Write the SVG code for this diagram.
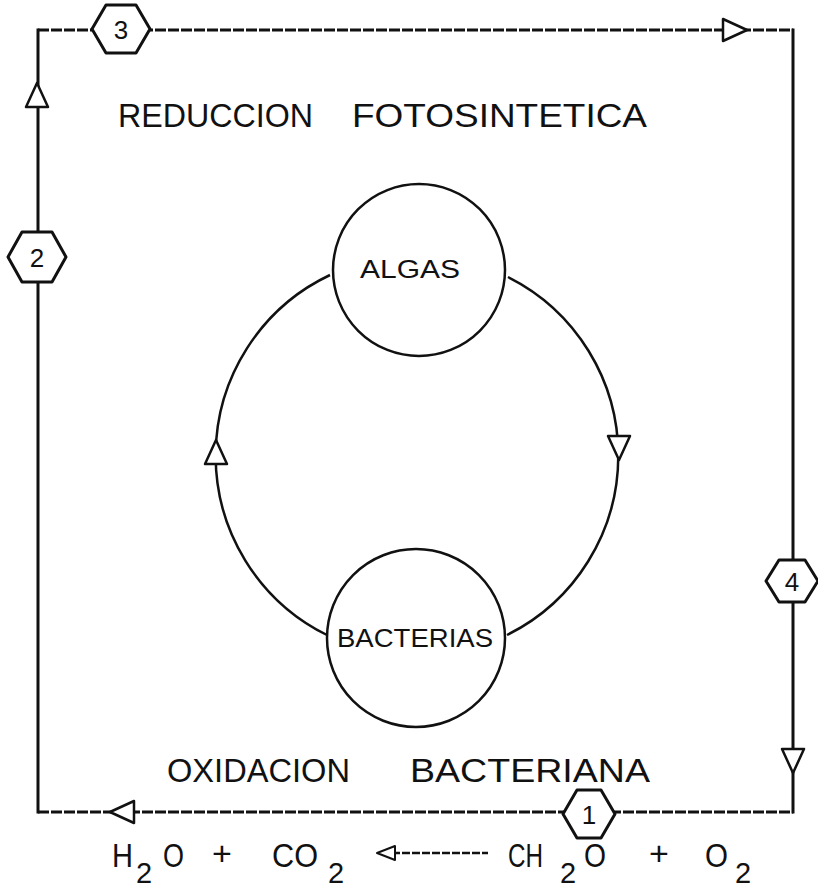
<svg xmlns="http://www.w3.org/2000/svg" xmlns:xlink="http://www.w3.org/1999/xlink" width="818" height="888" viewBox="0 0 818 888">
<style>
  .bg{fill:#ffffff}
  .frame{fill:none;stroke:#111;stroke-width:3;stroke-linecap:square}
  .dash{fill:none;stroke:#111;stroke-width:3;stroke-dasharray:11 2}
  .ring{fill:none;stroke:#111;stroke-width:2.5}
  .node{fill:#fff;stroke:#111;stroke-width:2.5}
  .hex{fill:#fff;stroke:#111;stroke-width:3;stroke-linejoin:round}
  .ah{fill:#fff;stroke:#111;stroke-width:2.5;stroke-linejoin:round}
  .t{font-family:"Liberation Sans","DejaVu Sans",sans-serif;fill:#111}
  .big{font-size:34px}
  .hx{font-size:26px;text-anchor:middle;dominant-baseline:central}
  .nl{font-size:25px}
</style>
<defs>
  <path id="arrowhead" class="ah" d="M0,0 L-24,-11 L-24,11 Z"/>
</defs>
<rect class="bg" x="0" y="0" width="818" height="888"/>

<g id="connectors">
  <!-- outer cycle frame -->
  <line class="frame" x1="38" y1="30" x2="38" y2="812"/>
  <line class="dash" x1="38" y1="30" x2="793" y2="30"/>
  <line class="frame" x1="793" y1="30" x2="793" y2="812"/>
  <line class="dash" x1="38" y1="812" x2="793" y2="812"/>
  <!-- frame arrowheads -->
  <use xlink:href="#arrowhead" transform="translate(37,83) rotate(-90)"/>
  <use xlink:href="#arrowhead" transform="translate(747,30)"/>
  <use xlink:href="#arrowhead" transform="translate(793,773) rotate(90)"/>
  <use xlink:href="#arrowhead" transform="translate(110,812) rotate(180)"/>
  <!-- inner ring -->
  <path class="ring" d="M330,275 A200,200 0 0 0 327,635"/>
  <path class="ring" d="M508,277 A200,200 0 0 1 507,635"/>
  <use xlink:href="#arrowhead" transform="translate(619,460) rotate(90)"/>
  <use xlink:href="#arrowhead" transform="translate(216,440) rotate(-90)"/>
  <!-- reaction arrow -->
  <line class="dash" x1="392" y1="853" x2="488" y2="853" style="stroke-width:2.5;stroke-dasharray:8 2"/>
  <path class="ah" d="M377,853 L395,846 L395,860 Z" style="stroke-width:2"/>
</g>

<g id="hex3">
  <polygon class="hex" points="92,29 106,5 136,5 150,29 136,53 106,53"/>
  <text class="t hx" x="121" y="30">3</text>
</g>
<g id="hex2">
  <polygon class="hex" points="8,257 22,232 52,232 66,257 52,282 22,282"/>
  <text class="t hx" x="37" y="258">2</text>
</g>
<g id="hex4">
  <polygon class="hex" points="766,581 779,560 805,560 818,581 805,602 779,602"/>
  <text class="t hx" x="792" y="582">4</text>
</g>
<g id="hex1">
  <polygon class="hex" points="563,814 577,790 601,790 615,814 601,838 577,838"/>
  <text class="t hx" x="589" y="815">1</text>
</g>

<g id="algas">
  <circle class="node" cx="419" cy="270" r="86"/>
  <text class="t nl" x="360" y="278" textLength="100" lengthAdjust="spacingAndGlyphs">ALGAS</text>
</g>
<g id="bacterias">
  <circle class="node" cx="416" cy="638" r="89"/>
  <text class="t nl" x="337" y="647" textLength="156" lengthAdjust="spacingAndGlyphs">BACTERIAS</text>
</g>

<g id="labels">
  <text class="t big" x="118" y="127" textLength="195" lengthAdjust="spacingAndGlyphs">REDUCCION</text>
  <text class="t big" x="352" y="127" textLength="295" lengthAdjust="spacingAndGlyphs">FOTOSINTETICA</text>
  <text class="t big" x="167" y="782" textLength="183" lengthAdjust="spacingAndGlyphs">OXIDACION</text>
  <text class="t big" x="410" y="782" textLength="240" lengthAdjust="spacingAndGlyphs">BACTERIANA</text>
</g>

<g id="formula">
  <text class="t big" x="112" y="867" textLength="21" lengthAdjust="spacingAndGlyphs">H</text>
  <text class="t big" x="136" y="883" style="font-size:29px">2</text>
  <text class="t big" x="163" y="867" textLength="21" lengthAdjust="spacingAndGlyphs">O</text>
  <text class="t big" x="212" y="865">+</text>
  <text class="t big" x="272" y="867" textLength="46" lengthAdjust="spacingAndGlyphs">CO</text>
  <text class="t big" x="328" y="883" style="font-size:29px">2</text>
  <text class="t big" x="508" y="867" textLength="35" lengthAdjust="spacingAndGlyphs">CH</text>
  <text class="t big" x="560" y="883" style="font-size:29px">2</text>
  <text class="t big" x="584" y="867" textLength="22" lengthAdjust="spacingAndGlyphs">O</text>
  <text class="t big" x="649" y="865">+</text>
  <text class="t big" x="705" y="867" textLength="23" lengthAdjust="spacingAndGlyphs">O</text>
  <text class="t big" x="735" y="883" style="font-size:29px">2</text>
</g>
</svg>
